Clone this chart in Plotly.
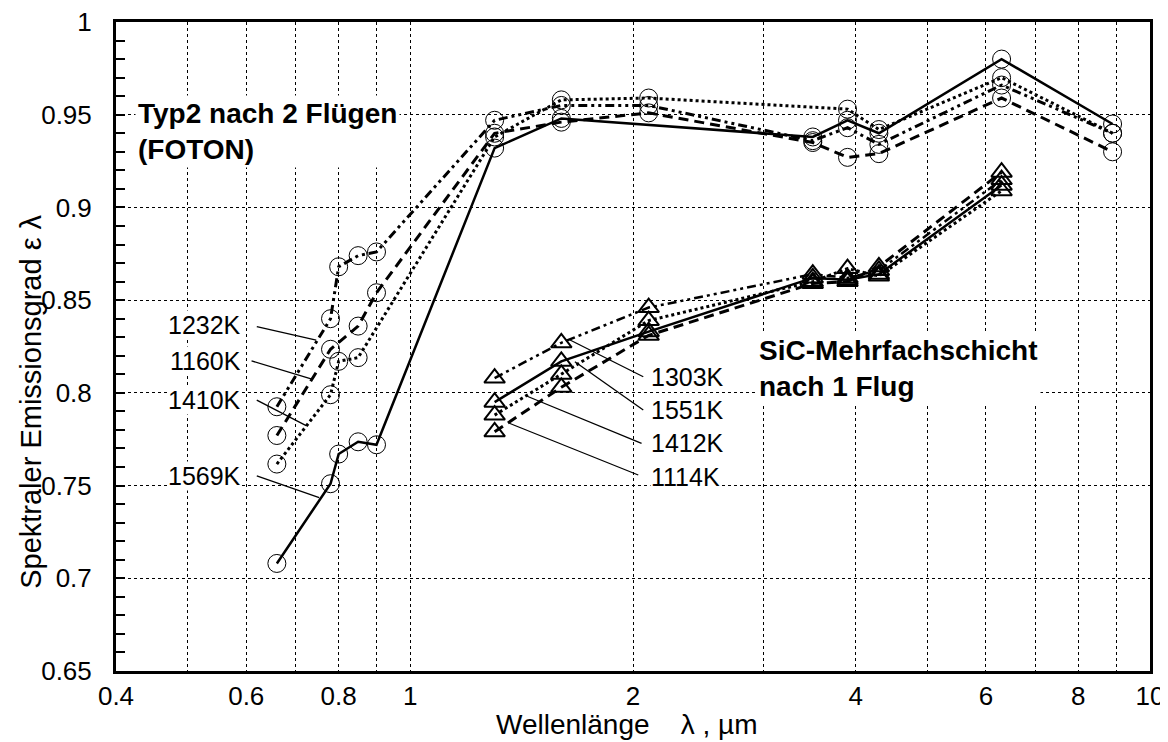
import math
import plotly.graph_objects as go

# ---- Typ2 nach 2 Flügen (FOTON), circles ----
wl_1232 = [0.66, 0.78, 0.80, 0.85, 0.90, 1.3, 1.6, 2.1, 3.5, 3.9, 4.3, 6.3, 8.9]
eps_1232 = [0.7925, 0.840, 0.868, 0.874, 0.876, 0.947, 0.955, 0.955, 0.936, 0.943, 0.934, 0.966, 0.940]
wl_1160 = [0.66, 0.78, 0.85, 0.90, 1.3, 1.6, 2.1, 3.5, 3.9, 4.3, 6.3, 8.9]
eps_1160 = [0.777, 0.8235, 0.836, 0.854, 0.940, 0.946, 0.951, 0.935, 0.927, 0.929, 0.959, 0.930]
wl_1410 = [0.66, 0.78, 0.80, 0.85, 1.3, 1.6, 2.1, 3.9, 4.3, 6.3, 8.9]
eps_1410 = [0.7616, 0.799, 0.817, 0.819, 0.938, 0.958, 0.959, 0.953, 0.942, 0.970, 0.940]
wl_1569 = [0.66, 0.78, 0.80, 0.85, 0.90, 1.3, 1.6, 3.5, 3.9, 4.3, 6.3, 8.9]
eps_1569 = [0.708, 0.751, 0.767, 0.7736, 0.772, 0.932, 0.948, 0.938, 0.947, 0.940, 0.980, 0.945]

# ---- SiC-Mehrfachschicht nach 1 Flug, triangles ----
wl_sic = [1.3, 1.6, 2.1, 3.5, 3.9, 4.3, 6.3]
eps_1303 = [0.808, 0.827, 0.846, 0.864, 0.862, 0.866, 0.915]
eps_1551 = [0.795, 0.817, 0.833, 0.862, 0.861, 0.864, 0.912]
eps_1412 = [0.788, 0.810, 0.839, 0.860, 0.867, 0.863, 0.909]
eps_1114 = [0.779, 0.803, 0.831, 0.859, 0.860, 0.868, 0.919]

x_tickvals = [0.4, 0.6, 0.8, 1, 2, 4, 6, 8, 10]
x_ticktext = ["0.4", "0.6", "0.8", "1", "2", "4", "6", "8", "10"]
x_minorvals = [0.5, 0.7, 0.9, 3, 5, 7, 9]
y_tickvals = [0.65, 0.7, 0.75, 0.8, 0.85, 0.9, 0.95, 1.0]
y_ticktext = ["0.65", "0.7", "0.75", "0.8", "0.85", "0.9", "0.95", "1"]

FONT = "Liberation Sans, Arial, sans-serif"
DASHDOTDOT = "9px,4px,3px,4px,3px,4px"
DASH = "10px,6px"
DOT = "3px,3px"

fig = go.Figure()

circle_series = [
    (wl_1232, eps_1232, DASHDOTDOT, 3, "1232K"),
    (wl_1160, eps_1160, DASH, 3, "1160K"),
    (wl_1410, eps_1410, DOT, 3, "1410K"),
    (wl_1569, eps_1569, "solid", 2.5, "1569K"),
]
for wl, eps, dash, w, name in circle_series:
    fig.add_trace(go.Scatter(
        x=wl, y=eps, mode="lines+markers", name=name,
        line=dict(color="black", width=w, dash=dash),
        marker=dict(symbol="circle-open", size=18, color="black", line=dict(width=1, color="black")),
    ))

tri_series = [
    (eps_1303, DASHDOTDOT, 2.5, "1303K"),
    (eps_1551, "solid", 2.5, "1551K"),
    (eps_1412, DOT, 3, "1412K"),
    (eps_1114, DASH, 3, "1114K"),
]
for eps, dash, w, name in tri_series:
    fig.add_trace(go.Scatter(
        x=wl_sic, y=eps, mode="lines+markers", name=name,
        line=dict(color="black", width=w, dash=dash),
        marker=dict(symbol="triangle-up-open", size=18, color="black", line=dict(width=2, color="black")),
    ))

# leader lines (from label to curve), in data units
leaders = [
    (0.620, 0.8357, 0.746, 0.8285),
    (0.610, 0.8172, 0.738, 0.8073),
    (0.620, 0.7961, 0.723, 0.7823),
    (0.620, 0.7552, 0.753, 0.7435),
    (2.065, 0.8087, 1.644, 0.8285),
    (2.065, 0.7908, 1.669, 0.8168),
    (2.054, 0.7728, 1.436, 0.7983),
    (2.033, 0.7557, 1.361, 0.7836),
]
for x0, y0, x1, y1 in leaders:
    fig.add_shape(type="line", x0=x0, y0=y0, x1=x1, y1=y1, xref="x", yref="y",
                  line=dict(color="black", width=1.3))

label_font = dict(family=FONT, size=25, color="black")
left_labels = [("1232K", 0.8366), ("1160K", 0.8172), ("1410K", 0.7961), ("1569K", 0.7552)]
for txt, yy in left_labels:
    fig.add_annotation(x=math.log10(0.592), y=yy, xref="x", yref="y", text=txt, showarrow=False,
                       xanchor="right", yanchor="middle", font=label_font,
                       bgcolor="white", borderpad=0)
right_labels = [("1303K", 0.8087), ("1551K", 0.7908), ("1412K", 0.7728), ("1114K", 0.7548)]
for txt, yy in right_labels:
    fig.add_annotation(x=math.log10(2.11), y=yy, xref="x", yref="y", text=txt, showarrow=False,
                       xanchor="left", yanchor="middle", font=label_font,
                       bgcolor="white", borderpad=0)

bold_font = dict(family=FONT, size=28, color="black")
fig.add_annotation(x=math.log10(0.425), y=0.9412, xref="x", yref="y",
                   text="<b>Typ2 nach 2 Flügen<br>(FOTON)</b>", showarrow=False,
                   xanchor="left", yanchor="middle", align="left", font=bold_font,
                   bgcolor="white", borderpad=2)
fig.add_annotation(x=math.log10(2.93), y=0.8131, xref="x", yref="y",
                   text="<b>SiC-Mehrfachschicht<br>nach 1 Flug</b>", showarrow=False,
                   xanchor="left", yanchor="middle", align="left", font=bold_font,
                   bgcolor="white", borderpad=2)

# axis titles as paper-anchored annotations
fig.add_annotation(x=-0.083, y=0.415, xref="paper", yref="paper",
                   text="Spektraler Emissionsgrad ε λ", showarrow=False, textangle=-90,
                   xanchor="center", yanchor="middle", font=dict(family=FONT, size=29))
fig.add_annotation(x=0.494, y=-0.082, xref="paper", yref="paper",
                   text="Wellenlänge    λ , µm", showarrow=False,
                   xanchor="center", yanchor="middle", font=dict(family=FONT, size=28))

fig.update_layout(
    width=1160, height=734,
    margin=dict(l=108, r=18, t=14, b=71),
    paper_bgcolor="white", plot_bgcolor="white",
    showlegend=False,
    font=dict(family=FONT, size=24, color="black"),
    xaxis=dict(
        type="log", range=[math.log10(0.4), math.log10(10)],
        automargin=False, ticklabeloverflow="allow",
        tickmode="array", tickvals=x_tickvals, ticktext=x_ticktext,
        ticks="", showgrid=True, gridcolor="black", griddash="dot", gridwidth=1,
        minor=dict(tickmode="array", tickvals=x_minorvals, showgrid=True,
                   gridcolor="black", griddash="dot", gridwidth=1, ticks=""),
        showline=True, linecolor="black", linewidth=3, mirror=True,
        zeroline=False,
        tickfont=dict(family=FONT, size=26),
    ),
    yaxis=dict(
        range=[0.65, 1.0],
        automargin=False, ticklabeloverflow="allow",
        tickmode="array", tickvals=y_tickvals, ticktext=y_ticktext,
        ticks="inside", ticklen=9, tickwidth=1.5, tickcolor="black",
        ticklabelstandoff=16,
        showgrid=True, gridcolor="black", griddash="dot", gridwidth=1,
        minor=dict(dtick=0.01, tick0=0.65, ticks="inside", ticklen=9, tickwidth=1.5,
                   tickcolor="black", showgrid=False),
        showline=True, linecolor="black", linewidth=3, mirror=True,
        zeroline=False,
        tickfont=dict(family=FONT, size=26),
    ),
)

fig.write_html("out.html")
